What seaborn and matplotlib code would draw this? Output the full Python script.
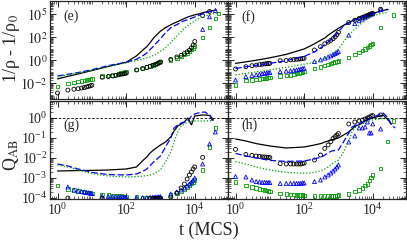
import numpy as np
import pandas as pd
import matplotlib
matplotlib.use("Agg")
import matplotlib.pyplot as plt
import matplotlib.ticker as mticker
import seaborn as sns

nan = np.nan

# sampling times (MCS) of the symbols and of the curves
t_pts = [1,
         2, 3, 4, 5, 6, 7, 8, 9, 10,
         20, 30, 40, 50, 60, 70, 80, 90, 100,
         200, 300, 400, 500, 600, 700, 800, 900, 1000,
         2000, 3000, 4000, 5000, 6000, 7000, 8000, 9000, 10000,
         17000, 27000, 40000, 50000]
t_line = [1, 2, 4, 10, 30, 100, 200, 320, 400, 500, 630, 1000, 1400, 2000, 2500,
          3200, 4000, 5000, 6300, 8000, 10000, 12600, 16000, 20000, 28000, 35000, 45000]

# values, given as log10
# panel (e): 1/rho - 1/rho0, symbols
e_black = [-2.83,
           -2.57, -2.5, -2.45, -2.4, -2.35, -2.3, -2.25, -2.2, -2.15,
           -1.46, -1.4, -1.35, -1.3, -1.25, -1.2, -1.17, -1.14, -1.11,
           -0.83, -0.7, -0.6, -0.5, -0.42, -0.35, -0.28, -0.2, -0.13,
           0.1, 0.3, 0.45, 0.6, 0.75, 0.9, 1.1, 1.35, 1.65,
           3.9, 4.26, nan, nan]
e_blue = [nan] * 37 + [2.7, 3.8, 4.35, nan]
e_green = [-2.28,
           -1.98, -1.92, -1.85, -1.8, -1.75, -1.7, -1.67, -1.63, -1.6,
           -1.35, -1.3, -1.25, -1.2, -1.15, -1.1, -1.05, -1.0, -0.97,
           -0.8, -0.68, -0.58, -0.48, -0.4, -0.33, -0.26, -0.18, -0.1,
           0.05, 0.2, 0.35, 0.5, 0.65, 0.8, 0.95, 1.1, 1.25,
           2.0, 2.85, 3.65, 4.1]
e_black_line = [-1.6, -1.38, -1.17, -0.88, -0.52, -0.16, 0.4, 0.95, 1.2, 1.55, 1.95, 2.55, 2.85,
                3.1, 3.25, 3.38, 3.52, 3.65, 3.78, 3.88, 3.97, 4.03, 4.12, 4.2, 4.3, 4.35, nan]
e_blue_line = [-1.35, -1.2, -1.05, -0.8, -0.45, -0.15, 0.1, 0.45, 0.65, 0.95, 1.25, 1.9, 2.4,
               2.85, 3.0, 3.15, 3.35, 3.45, 3.55, 3.67, 3.78, 3.9, 4.02, 4.12, 4.25, 4.32, 4.38]
e_green_line = [-1.4, -1.25, -1.1, -0.85, -0.5, -0.2, 0.0, 0.15, 0.22, 0.3, 0.45, 0.8, 1.1,
                1.55, 1.9, 2.2, 2.5, 2.8, 3.05, 3.25, 3.45, 3.6, 3.75, 3.85, 4.0, 4.07, 4.13]

# panel (f)
f_black = [-0.74,
           -0.54, -0.45, -0.4, -0.36, -0.33, -0.3, -0.28, -0.26, -0.25,
           -0.02, 0.0, 0.05, 0.08, 0.1, 0.12, 0.14, 0.17, 0.19,
           0.91, 1.2, 1.45, 1.6, 1.75, 1.9, 2.05, 2.25, 2.45,
           3.3, 3.5, 3.65, 3.75, 3.85, 3.92, 4.0, 4.05, 4.1,
           4.45, nan, nan, nan]
f_blue = [-1.7,
          -1.4, -1.3, -1.25, -1.2, -1.15, -1.12, -1.1, -1.07, -1.05,
          -0.97, -0.93, -0.9, -0.86, -0.82, -0.78, -0.75, -0.71, -0.68,
          -0.1, 0.05, 0.2, 0.3, 0.4, 0.5, 0.6, 0.7, 0.77,
          2.2, 3.2, 3.45, 3.6, 3.75, 3.85, 3.95, 4.02, 4.08,
          4.45, nan, nan, nan]
f_green = [-2.13,
           -1.75, -1.7, -1.66, -1.62, -1.58, -1.55, -1.52, -1.5, -1.47,
           -1.35, -1.3, -1.25, -1.2, -1.15, -1.1, -1.05, -1.0, -0.97,
           -0.68, -0.55, -0.45, -0.35, -0.28, -0.2, -0.14, -0.08, -0.04,
           0.28, 0.54, 0.7, 0.85, 1.0, 1.12, 1.25, 1.38, 1.5,
           2.89, nan, 3.96, nan]
f_black_line = [-0.25, -0.12, 0.02, 0.23, 0.53, 1.0, 1.45, 1.8, 1.95, 2.2, 2.4, 2.8, 3.05,
                3.3, 3.45, 3.6, 3.72, 3.82, 3.92, 4.0, 4.08, 4.18, 4.27, 4.35, 4.45, nan, nan]
f_blue_line = [-0.7, -0.55, -0.42, -0.25, -0.02, 0.35, 0.75, 1.15, 1.35, 1.6, 1.85, 2.5, 3.0,
               3.25, 3.4, 3.55, 3.67, 3.78, 3.88, 3.97, 4.05, 4.14, 4.23, 4.32, 4.42, nan, nan]
f_green_line = [-1.26, -1.12, -1.0, -0.82, -0.6, -0.33, -0.15, 0.05, 0.2, 0.4, 0.6, 1.0, 1.6,
                2.2, 2.5, 2.8, 3.05, 3.3, 3.55, 3.75, 3.85, 3.95, 4.05, 4.12, 4.18, nan, nan]

# panel (g): Q_AB
g_black = [nan,
           -4.0, nan, nan, nan, nan, nan, nan, nan, nan,
           -4.02, nan, nan, nan, nan, nan, nan, nan, nan,
           nan, nan, nan, -4.03, -4.03, -4.03, -4.03, -4.03, -4.03,
           -3.95, -3.75, -3.5, -3.3, -3.05, -2.85, -2.7, -2.55, -2.45,
           -1.97, nan, nan, nan]
g_blue = [nan,
          -3.45, -3.6, -3.65, -3.68, -3.7, -3.72, -3.74, -3.76, -3.78,
          -3.9, -3.92, -3.93, -3.94, -3.95, -3.95, -3.96, -3.96, -3.96,
          -3.98, -3.98, -3.98, -3.97, -3.96, -3.95, -3.95, -3.94, -3.93,
          -3.8, -3.7, -3.6, -3.5, -3.4, -3.3, -3.2, -3.1, -3.0,
          -2.3, -1.3, -0.7, nan]
g_green = [-3.38,
           -3.55, -3.6, -3.65, -3.68, -3.7, -3.72, -3.74, -3.76, -3.78,
           -3.82, -3.85, -3.87, -3.88, -3.9, -3.9, -3.92, -3.93, -3.93,
           -3.95, -3.97, -3.97, -3.97, -3.98, -3.98, -3.98, -3.98, -3.97,
           -3.85, -3.75, -3.65, -3.55, -3.45, -3.35, -3.28, -3.2, -3.1,
           -2.6, -1.45, -0.5, nan]
g_black_line = [-2.65, -2.64, -2.63, -2.62, -2.6, -2.55, -2.45, -2.1, -1.95, -1.75, -1.6, -1.35, -1.2,
                -0.95, -0.65, -0.4, -0.3, -0.2, 0.0, -0.35, 0.1, 0.12, 0.15, 0.15, 0.12, -0.1, nan]
g_blue_line = [-2.3, -2.4, -2.55, -2.72, -2.83, -2.85, -2.8, -2.65, -2.55, -2.38, -2.2, -1.9, -1.45,
               -1.0, -0.5, -0.35, -0.25, -0.2, -0.15, 0.1, 0.2, 0.25, 0.28, 0.3, 0.1, -0.25, nan]
g_green_line = [-2.35, -2.45, -2.6, -2.78, -2.9, -2.95, -2.93, -2.9, -2.88, -2.85, -2.8, -2.6, -2.2,
                -1.7, -1.2, -0.7, -0.4, -0.3, -0.2, -0.17, -0.15, -0.15, -0.15, -0.15, -0.13, -0.13, nan]

# panel (h)
h_black = [-1.57,
           -1.82, -1.87, -1.9, -1.92, -1.94, -1.95, -1.96, -1.97, -1.98,
           -2.28, -2.3, -2.3, -2.3, -2.3, -2.3, -2.3, -2.28, -2.25,
           -2.1, -1.85, -1.52, -1.35, -1.18, -1.02, -0.93, -0.85, -0.78,
           -0.3, -0.2, -0.15, -0.1, -0.05, 0.0, 0.05, 0.1, 0.12,
           0.15, nan, nan, nan]
h_blue = [-2.93,
          -2.95, -3.1, -3.18, -3.2, -3.22, -3.22, -3.23, -3.23, -3.23,
          -3.27, -3.27, -3.27, -3.27, -3.27, -3.27, -3.27, -3.25, -3.25,
          -3.18, -3.1, -2.95, -2.85, -2.75, -2.65, -2.55, -2.45, -2.35,
          -1.2, -0.9, -0.5, -0.5, -0.45, -0.2, -0.75, -0.75, -0.3,
          -0.55, nan, nan, nan]
h_green = [-3.2,
           -3.38, -3.45, -3.5, -3.55, -3.58, -3.6, -3.63, -3.65, -3.68,
           -3.77, -3.8, -3.82, -3.83, -3.85, -3.85, -3.86, -3.86, -3.87,
           -3.9, -3.9, -3.9, -3.9, -3.9, -3.9, -3.89, -3.88, -3.85,
           -3.8, -3.68, -3.6, -3.5, -3.37, -3.3, -3.13, -2.97, -2.85,
           -2.52, -1.18, -0.15, nan]
h_black_line = [-1.05, -1.15, -1.28, -1.4, -1.5, -1.45, -1.35, -1.27, -1.2, -1.15, -1.1, -1.0, -0.85,
                -0.7, -0.55, -0.4, -0.33, -0.25, -0.12, -0.05, 0.0, 0.05, 0.1, 0.15, -0.1, -0.3, nan]
h_blue_line = [-1.77, -1.9, -2.0, -2.12, -2.17, -2.15, -2.05, -1.95, -1.85, -1.75, -1.65, -1.6, -1.2,
               -0.75, -0.45, -0.35, -0.3, -0.22, -0.15, -0.05, 0.05, 0.1, 0.2, 0.25, 0.0, -0.35, -0.5]
h_green_line = [-2.18, -2.3, -2.45, -2.6, -2.72, -2.77, -2.72, -2.62, -2.55, -2.45, -2.3, -2.1, -1.7,
                -1.15, -0.7, -0.45, -0.35, -0.28, -0.22, -0.15, -0.1, -0.07, -0.05, -0.03, -0.03, -0.05, nan]

top_ticks = [1e-2, 1, 1e2, 1e4]
top_ticklabels = [r"$10^{-2}$", r"$10^{0}$", r"$10^{2}$", r"$10^{5}$"]
bottom_ticks = [1e-4, 1e-3, 1e-2, 1e-1, 1]
x_ticks = [1, 1e2, 1e4]

BLACK, BLUE, GREEN = "black", "#0000ff", "#00a000"

sns.set_theme(style="ticks")
plt.rcParams["font.family"] = ["Liberation Serif", "DejaVu Serif"]
plt.rcParams.update({
    "mathtext.fontset": "stix",
    "xtick.direction": "in", "ytick.direction": "in",
    "xtick.top": True, "ytick.right": True,
    "xtick.minor.visible": True, "ytick.minor.visible": True,
    "xtick.major.size": 4, "ytick.major.size": 4,
    "xtick.minor.size": 2, "ytick.minor.size": 2,
    "xtick.major.width": 0.7, "ytick.major.width": 0.7,
    "xtick.minor.width": 0.5, "ytick.minor.width": 0.5,
    "xtick.major.pad": 2.5, "ytick.major.pad": 2,
    "axes.linewidth": 0.9,
    "xtick.labelsize": 10, "ytick.labelsize": 10,
})

fig, axes = plt.subplots(2, 2, figsize=(4.07, 2.4), dpi=100, sharex=True, sharey="row")
fig.subplots_adjust(left=50 / 407, right=406 / 407, top=239 / 240, bottom=41 / 240,
                    wspace=0, hspace=0.02)

panels = [
    (axes[0, 0], "(e)", e_black, e_blue, e_green, e_black_line, e_blue_line, e_green_line),
    (axes[0, 1], "(f)", f_black, f_blue, f_green, f_black_line, f_blue_line, f_green_line),
    (axes[1, 0], "(g)", g_black, g_blue, g_green, g_black_line, g_blue_line, g_green_line),
    (axes[1, 1], "(h)", h_black, h_blue, h_green, h_black_line, h_blue_line, h_green_line),
]

for ax, tag, pb, pu, pg, lb, lu, lg in panels:
    ax.set_xscale("log")
    ax.set_yscale("log")
    # curves
    for vals, col, ls in [(lb, BLACK, "-"), (lu, BLUE, (0, (5, 2))), (lg, GREEN, (0, (1, 1.5)))]:
        df = pd.DataFrame({"t": t_line, "y": 10 ** np.array(vals, dtype=float)}).dropna()
        sns.lineplot(data=df, x="t", y="y", ax=ax, color=col, linestyle=ls, lw=0.9)
    # symbols
    for vals, col, mk, s in [(pg, GREEN, "s", 6), (pu, BLUE, "^", 8), (pb, BLACK, "o", 8)]:
        df = pd.DataFrame({"t": t_pts, "y": 10 ** np.array(vals, dtype=float)}).dropna()
        sns.scatterplot(data=df, x="t", y="y", ax=ax, marker=mk, s=s,
                        facecolor="none", edgecolor=col, linewidth=0.6)
    ax.text(0.075, 0.84 if tag in ("(e)", "(f)") else 0.75, tag,
            transform=ax.transAxes, fontsize=10, va="center")
    ax.set_xlabel("")
    ax.set_ylabel("")

for ax in axes[1]:
    ax.axhline(1, color="black", lw=0.6, ls=(0, (3, 2)))

axes[0, 0].set_xlim(10 ** -0.22, 10 ** 4.97)
axes[0, 0].set_ylim(10 ** -3.35, 10 ** 5.17)
axes[1, 0].set_ylim(10 ** -4.05, 10 ** 0.85)

for ax in axes.flat:
    ax.xaxis.set_major_locator(mticker.FixedLocator(x_ticks))
    ax.xaxis.set_minor_locator(mticker.LogLocator(base=10, subs=np.arange(1, 10), numticks=100))
    ax.xaxis.set_major_formatter(mticker.LogFormatterMathtext())
    ax.xaxis.set_minor_formatter(mticker.NullFormatter())
    ax.yaxis.set_minor_locator(mticker.LogLocator(base=10, subs=np.arange(1, 10), numticks=100))
    ax.yaxis.set_minor_formatter(mticker.NullFormatter())
    ax.tick_params(which="both", top=True, right=True)

for ax in axes[0]:
    ax.yaxis.set_major_locator(mticker.FixedLocator(top_ticks))
    ax.yaxis.set_major_formatter(mticker.FixedFormatter(top_ticklabels))
    ax.tick_params(labelbottom=False)
for ax in axes[1]:
    ax.yaxis.set_major_locator(mticker.FixedLocator(bottom_ticks))
    ax.yaxis.set_major_formatter(mticker.LogFormatterMathtext())
for ax in axes[:, 1]:
    ax.tick_params(labelleft=False)

fig.text(11 / 407, 1 - 48 / 240, "1/ρ - 1/ρ$_0$", rotation=90, ha="center", va="center", fontsize=13)
fig.text(11 / 407, 1 - 155 / 240, r"Q$_{\rm AB}$", rotation=90, ha="center", va="center", fontsize=13)
fig.text(209 / 407, 1 - 230 / 240, "t (MCS)", ha="center", va="center", fontsize=13)

fig.savefig("out.png", dpi=100)
